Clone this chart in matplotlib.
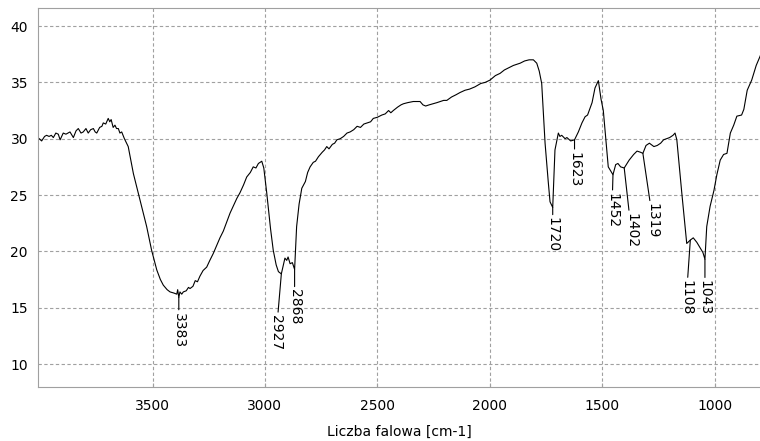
import numpy as np
import matplotlib
matplotlib.use("Agg")
import matplotlib.pyplot as plt

wavenumber = [4004, 3993, 3980, 3971, 3960, 3950, 3941, 3930, 3919, 3911, 3897, 3885, 3867, 3852,
              3840, 3830, 3818, 3808, 3796, 3786, 3775, 3763, 3755, 3748, 3735, 3725, 3719, 3708,
              3697, 3690, 3684, 3675, 3667, 3660, 3652, 3645, 3637, 3625, 3615, 3608, 3585, 3556,
              3526, 3504, 3481, 3465, 3452, 3435, 3422, 3405, 3392, 3388, 3383, 3378, 3370, 3363,
              3350, 3340, 3333, 3320, 3310, 3300, 3289, 3275, 3259, 3245, 3230, 3215, 3200, 3185,
              3170, 3155, 3141, 3125, 3111, 3095, 3081, 3065, 3052, 3040, 3029, 3014, 3005, 2992,
              2975, 2963, 2950, 2940, 2927, 2918, 2911, 2903, 2897, 2888, 2878, 2868, 2859, 2848,
              2836, 2820, 2810, 2799, 2785, 2775, 2762, 2745, 2735, 2725, 2715, 2700, 2690, 2680,
              2665, 2650, 2635, 2621, 2605, 2590, 2575, 2560, 2545, 2530, 2518, 2500, 2480, 2465,
              2450, 2440, 2429, 2410, 2395, 2384, 2365, 2340, 2320, 2310, 2297, 2285, 2270, 2252,
              2235, 2220, 2205, 2191, 2170, 2150, 2132, 2110, 2090, 2066, 2040, 2020, 1999, 1975,
              1954, 1935, 1915, 1895, 1865, 1845, 1825, 1806, 1791, 1780, 1769, 1754, 1740, 1732,
              1720, 1710, 1695, 1688, 1680, 1665, 1657, 1640, 1623, 1606, 1590, 1576, 1565, 1554,
              1545, 1532, 1517, 1505, 1495, 1473, 1452, 1440, 1430, 1418, 1402, 1380, 1360, 1345,
              1330, 1319, 1305, 1290, 1270, 1255, 1240, 1227, 1200, 1185, 1176, 1168, 1146, 1124,
              1108, 1095, 1079, 1064, 1052, 1043, 1035, 1020, 1003, 990, 975, 960, 945, 930,
              915, 901, 880, 870, 855, 835, 815, 798, 789]

transmittance = [30.0, 29.8, 30.2, 30.3, 30.2, 30.3, 30.1, 30.5, 30.4, 29.9, 30.5, 30.4, 30.6, 30.1,
                 30.7, 30.9, 30.5, 30.6, 30.9, 30.5, 30.8, 30.9, 30.6, 30.5, 31.0, 31.1, 31.4, 31.3,
                 31.8, 31.5, 31.7, 31.0, 31.2, 30.9, 30.9, 30.5, 30.6, 30.0, 29.6, 29.3, 26.9, 24.6,
                 22.2, 20.1, 18.35, 17.5, 17.0, 16.6, 16.4, 16.3, 16.2, 16.6, 15.9, 16.4, 16.2, 16.4,
                 16.5, 16.8, 16.7, 16.9, 17.4, 17.3, 17.8, 18.3, 18.6, 19.2, 19.8, 20.5, 21.2, 21.8,
                 22.6, 23.4, 24.0, 24.7, 25.2, 25.9, 26.6, 27.0, 27.5, 27.4, 27.8, 28.0, 27.4, 25.2,
                 22.0, 20.1, 18.8, 18.2, 18.0, 18.8, 19.4, 19.2, 19.5, 18.9, 19.0, 18.4, 22.2, 24.2,
                 25.6, 26.2, 27.0, 27.5, 27.9, 28.0, 28.4, 28.8, 29.0, 29.3, 29.1, 29.5, 29.6, 29.9,
                 30.0, 30.2, 30.5, 30.6, 30.8, 31.1, 31.0, 31.3, 31.4, 31.5, 31.8, 31.9, 32.1, 32.2,
                 32.5, 32.3, 32.5, 32.8, 33.0, 33.1, 33.2, 33.3, 33.3, 33.3, 33.0, 32.9, 33.0, 33.1,
                 33.2, 33.3, 33.4, 33.4, 33.7, 33.9, 34.1, 34.3, 34.4, 34.6, 34.9, 35.0, 35.2, 35.6,
                 35.8, 36.1, 36.3, 36.5, 36.7, 36.9, 37.0, 37.0, 36.7, 36.0, 34.9, 29.6, 26.2, 24.4,
                 23.9, 29.0, 30.5, 30.2, 30.3, 30.0, 30.1, 29.8, 29.9, 30.6, 31.4, 31.95, 32.1, 32.7,
                 33.2, 34.5, 35.15, 33.5, 32.5, 27.5, 26.8, 27.7, 27.8, 27.5, 27.4, 28.1, 28.6, 28.9,
                 28.8, 28.7, 29.4, 29.6, 29.3, 29.4, 29.6, 29.9, 30.1, 30.3, 30.5, 29.9, 25.2, 20.7,
                 21.0, 21.2, 20.8, 20.3, 19.9, 19.3, 22.2, 24.0, 25.4, 26.8, 28.1, 28.6, 28.7, 30.5,
                 31.2, 32.0, 32.1, 32.6, 34.3, 35.2, 36.5, 37.3, 37.8]

peak_labels = [3383, 2927, 2868, 1720, 1623, 1452, 1402, 1319, 1108, 1043]
# leader-line offsets (pixels) from the peak point to the top of its label
label_offsets = [(0, -15), (-5, -41), (0, -20), (0, -10), (0, -12),
                 (-1, -18), (7, -45), (10, -50), (-4, -40), (0, -21)]

x_ticks = [3500, 3000, 2500, 2000, 1500, 1000]
y_ticks = [10, 15, 20, 25, 30, 35, 40]
x_label = "Liczba falowa [cm-1]"

plt.rcParams['font.family'] = ['DejaVu Sans']
fig = plt.figure(figsize=(7.6, 4.41), dpi=100)
W, H = 760, 441
left_px, right_px, top_px, bottom_px = 37.7, 762, 8, 387
ax = fig.add_axes([left_px / W, 1 - bottom_px / H, (right_px - left_px) / W, (bottom_px - top_px) / H])

ax.plot(wavenumber, transmittance, color='black', linewidth=0.8)
ax.set_xlim(4010.6, 789.2)
ax.set_ylim(7.96, 41.6)
ax.set_xticks(x_ticks)
ax.set_yticks(y_ticks)
ax.set_xticklabels([str(t) for t in x_ticks])
ax.set_yticklabels([str(t) for t in y_ticks])

grid_col = '#a0a0a0'
ax.grid(True, color=grid_col, linestyle=(0, (3, 2.2)), linewidth=0.8)
for s in ax.spines.values():
    s.set_color(grid_col)
    s.set_linewidth(0.8)
ax.tick_params(axis='x', direction='in', length=3, color=grid_col, labelsize=10, pad=9)
ax.tick_params(axis='y', length=0, labelsize=10, pad=7)
ax.set_xlabel(x_label, fontsize=10, labelpad=8)

for wn, (dx, dy) in zip(peak_labels, label_offsets):
    yv = float(np.interp(wn, wavenumber[::-1], transmittance[::-1]))
    ax.annotate(str(wn), xy=(wn, yv), xytext=(dx, dy), textcoords='offset pixels',
                rotation=270, ha='center', va='top', fontsize=10,
                arrowprops=dict(arrowstyle='-', color='black', linewidth=0.8,
                                shrinkA=0, shrinkB=0))

fig.savefig('out.png', dpi=100)
